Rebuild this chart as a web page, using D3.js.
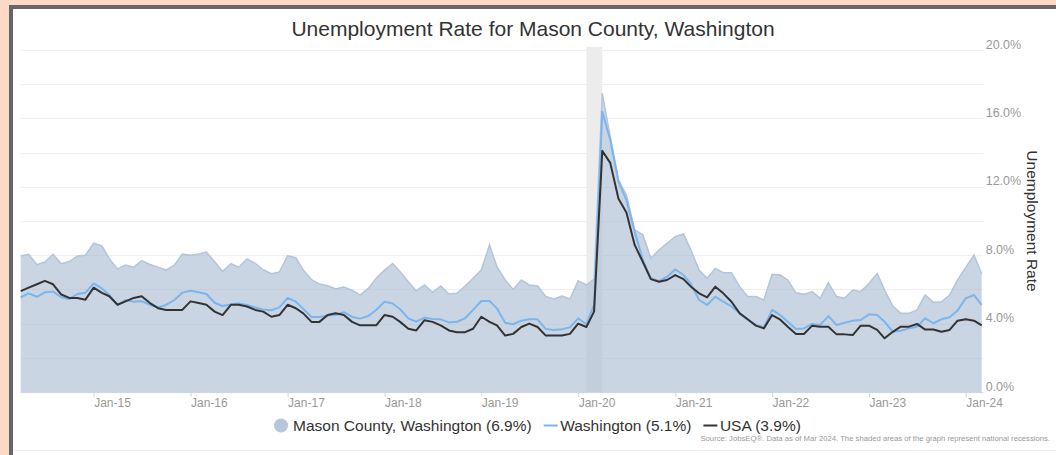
<!DOCTYPE html>
<html lang="en">
<head>
    <meta charset="UTF-8">
    <title>Unemployment Rate for Mason County, Washington</title>
    <style>
        html, body { margin: 0; padding: 0; background: #fcd9c6; overflow: hidden; }
        #panel {
            position: absolute; left: 9px; top: 5px; width: 1060px; height: 460px;
            background: #fff; border-left: 4px solid #666; border-top: 4px solid #666;
        }
        svg { position: absolute; left: 0; top: 0; }
    </style>
</head>
<body>
    <div id="panel"></div>
    <svg id="chart" width="1056" height="455"></svg>

    <script src="https://d3js.org/d3.v7.min.js"></script>
    <script>
        // --- DATA (monthly, Apr 2014 .. Mar 2024) ---
        const startMonth = new Date(2014, 3, 1);

        const mason = [
            7.95, 8.05, 7.45, 7.6, 8.05, 7.5, 7.63, 7.95, 8.0, 8.7, 8.55, 7.8,
            7.2, 7.42, 7.3, 7.68, 7.46, 7.3, 7.13, 7.42, 8.06, 8.0, 8.07, 8.18,
            7.62, 7.04, 7.5, 7.3, 7.78, 7.52, 7.15, 6.92, 7.02, 7.96, 7.85, 7.13,
            6.57, 6.31, 6.21, 6.02, 6.14, 5.96, 5.67, 6.06, 6.65, 7.13, 7.52, 7.04,
            6.45, 5.91, 6.26, 5.83, 6.2, 5.73, 5.77, 6.2, 6.65, 7.13, 8.6, 7.33,
            6.55, 6.0, 6.55, 6.26, 6.2, 5.58, 5.44, 5.61, 5.44, 6.51, 6.26, 6.59,
            17.47, 14.93, 12.4, 11.52, 9.48, 9.19, 7.82, 8.3, 8.7, 9.09, 9.24, 8.3,
            7.13, 6.65, 7.23, 6.98, 6.98, 6.16, 5.58, 5.58, 5.38, 6.88, 6.84, 6.55,
            5.8, 5.71, 5.87, 5.48, 6.39, 5.58, 5.48, 5.96, 5.87, 6.35, 6.94, 5.96,
            5.03, 4.6, 4.6, 4.8, 5.67, 5.24, 5.28, 5.67, 6.55, 7.29, 8.01, 6.9
        ];

        const washington = [
            5.54, 5.77, 5.57, 5.83, 5.87, 5.54, 5.44, 5.73, 5.81, 6.35, 6.06, 5.67,
            5.09, 5.38, 5.28, 5.32, 5.09, 4.95, 5.09, 5.38, 5.81, 5.92, 5.83, 5.73,
            5.22, 5.03, 5.12, 5.18, 5.09, 4.94, 4.82, 4.78, 4.95, 5.5, 5.28, 4.86,
            4.39, 4.39, 4.47, 4.5, 4.67, 4.39, 4.29, 4.44, 4.8, 5.28, 5.18, 4.84,
            4.31, 4.11, 4.35, 4.27, 4.25, 4.07, 4.11, 4.31, 4.8, 5.32, 5.32, 4.89,
            4.05, 3.96, 4.17, 4.25, 4.25, 3.68, 3.63, 3.67, 3.78, 4.31, 3.96, 5.1,
            16.39, 14.74, 12.3, 11.23, 9.38, 7.72, 6.65, 6.49, 6.74, 7.17, 6.84, 6.32,
            5.38, 5.09, 5.58, 5.28, 5.0, 4.6, 4.21, 3.92, 3.78, 4.8, 4.5, 4.11,
            3.68, 3.72, 3.98, 3.92, 4.44, 3.92, 4.05, 4.17, 4.21, 4.54, 4.5, 4.11,
            3.52, 3.58, 3.72, 3.82, 4.31, 4.02, 4.25, 4.37, 4.76, 5.48, 5.67, 5.1
        ];

        const usa = [
            5.9, 6.1, 6.3, 6.5, 6.3, 5.7, 5.5, 5.5, 5.4, 6.1, 5.8, 5.6,
            5.1, 5.3, 5.5, 5.6, 5.2, 4.9, 4.8, 4.8, 4.8, 5.3, 5.2, 5.1,
            4.7, 4.5, 5.1, 5.1, 5.0, 4.8, 4.7, 4.4, 4.5, 5.1, 4.9, 4.6,
            4.1, 4.1, 4.5, 4.6, 4.5, 4.1, 3.9, 3.9, 3.9, 4.5, 4.4, 4.1,
            3.7, 3.6, 4.2, 4.1, 3.9, 3.6, 3.5, 3.5, 3.7, 4.4, 4.1, 3.9,
            3.3, 3.4, 3.8, 4.0, 3.8, 3.3, 3.3, 3.3, 3.4, 4.0, 3.8, 4.7,
            14.1, 13.4, 11.3, 10.5, 8.6, 7.6, 6.6, 6.45, 6.55, 6.84, 6.6, 6.16,
            5.77, 5.53, 6.16, 5.77, 5.28, 4.6, 4.25, 3.88, 3.72, 4.5, 4.23, 3.82,
            3.39, 3.39, 3.88, 3.82, 3.82, 3.37, 3.37, 3.33, 3.88, 3.88, 3.63, 3.14,
            3.52, 3.82, 3.82, 3.98, 3.65, 3.65, 3.52, 3.63, 4.17, 4.25, 4.17, 3.9
        ];

        const recessions = [[new Date(2020, 1, 1), new Date(2020, 3, 1)]];

        const xTickLabels = ["Jan-15", "Jan-16", "Jan-17", "Jan-18", "Jan-19",
                             "Jan-20", "Jan-21", "Jan-22", "Jan-23", "Jan-24"];
        const yTickValues = [0, 4, 8, 12, 16, 20];
        const gridValues = [0, 2, 4, 6, 8, 10, 12, 14, 16, 18, 20];

        const legendItems = [
            { label: "Mason County, Washington (6.9%)", type: "area" },
            { label: "Washington (5.1%)", type: "line", color: "#7cb5ec" },
            { label: "USA (3.9%)", type: "line", color: "#333" }
        ];

        // --- BUILD ---
        const months = d3.timeMonth.range(startMonth, d3.timeMonth.offset(startMonth, mason.length));
        const rows = months.map((d, i) => ({ date: d, mason: mason[i], wa: washington[i], usa: usa[i] }));

        const plot = { left: 20.7, right: 981.7, top: 50, bottom: 392 };

        const x = d3.scaleTime()
            .domain([months[0], months[months.length - 1]])
            .range([plot.left, plot.right]);

        const y = d3.scaleLinear()
            .domain([0, 20])
            .range([plot.bottom, plot.top]);

        const svg = d3.select("#chart");
        const font = "'Liberation Sans', Arial, sans-serif";

        // title
        svg.append("text")
            .attr("x", 533).attr("y", 36)
            .attr("text-anchor", "middle")
            .attr("font-family", font)
            .attr("font-size", 21)
            .attr("fill", "#333")
            .text("Unemployment Rate for Mason County, Washington");

        // gridlines
        svg.append("g").selectAll("line")
            .data(gridValues)
            .join("line")
            .attr("x1", plot.left).attr("x2", plot.right + 1.5)
            .attr("y1", d => Math.round(y(d)) + 0.5).attr("y2", d => Math.round(y(d)) + 0.5)
            .attr("stroke", "#efefef").attr("stroke-width", 1);

        // recession band
        svg.append("g").selectAll("rect")
            .data(recessions)
            .join("rect")
            .attr("x", d => x(d[0]))
            .attr("width", d => x(d[1]) - x(d[0]))
            .attr("y", plot.top - 3)
            .attr("height", plot.bottom - plot.top + 3)
            .attr("fill", "#ececec");

        // mason area
        const area = d3.area()
            .x(d => x(d.date))
            .y0(y(0))
            .y1(d => y(d.mason));

        svg.append("path")
            .datum(rows)
            .attr("d", area)
            .attr("fill", "#a9bcd4")
            .attr("fill-opacity", 0.62);

        svg.append("path")
            .datum(rows)
            .attr("d", d3.line().x(d => x(d.date)).y(d => y(d.mason)))
            .attr("fill", "none")
            .attr("stroke", "#b3c5db")
            .attr("stroke-width", 1.5);

        // lines
        svg.append("path")
            .datum(rows)
            .attr("d", d3.line().x(d => x(d.date)).y(d => y(d.wa)))
            .attr("fill", "none")
            .attr("stroke", "#7cb5ec")
            .attr("stroke-width", 2)
            .attr("stroke-linejoin", "round");

        svg.append("path")
            .datum(rows)
            .attr("d", d3.line().x(d => x(d.date)).y(d => y(d.usa)))
            .attr("fill", "none")
            .attr("stroke", "#333")
            .attr("stroke-width", 2)
            .attr("stroke-linejoin", "round");

        // x axis
        const xTicks = xTickLabels.map((l, i) => new Date(2015 + i, 0, 1));
        const xAxis = svg.append("g")
            .attr("transform", `translate(0,${plot.bottom})`)
            .call(d3.axisBottom(x).tickValues(xTicks).tickSize(5).tickFormat((d, i) => xTickLabels[i]));
        xAxis.select(".domain").attr("stroke", "#ccd6eb").attr("d", `M${plot.left},0.5H${plot.right + 1.5}`);
        xAxis.selectAll(".tick line").attr("stroke", "#ccd6eb");
        xAxis.selectAll(".tick text")
            .attr("text-anchor", "start")
            .attr("dy", null).attr("y", 15)
            .attr("font-family", font).attr("font-size", 12).attr("fill", "#999");

        // y axis (right)
        const yAxis = svg.append("g")
            .attr("transform", `translate(${plot.right + 4},0)`)
            .call(d3.axisRight(y).tickValues(yTickValues).tickSize(0).tickFormat(d => d.toFixed(1) + "%"));
        yAxis.select(".domain").remove();
        yAxis.selectAll(".tick text")
            .attr("x", 0).attr("dy", "-0.15em")
            .attr("font-family", font).attr("font-size", 12.5).attr("fill", "#999");

        svg.append("text")
            .attr("transform", `translate(1027,${(plot.top + plot.bottom) / 2}) rotate(90)`)
            .attr("text-anchor", "middle")
            .attr("font-family", font).attr("font-size", 15.5)
            .attr("fill", "#333")
            .text("Unemployment Rate");

        // legend
        const lg = svg.append("g").attr("transform", "translate(0,431)");
        let lx = 274;
        legendItems.forEach(item => {
            if (item.type === "area") {
                lg.append("circle").attr("cx", lx + 7).attr("cy", -5.5).attr("r", 7).attr("fill", "#b6c7dc");
                lx += 19;
            } else {
                lg.append("line").attr("x1", lx).attr("x2", lx + 14)
                    .attr("y1", -5.5).attr("y2", -5.5)
                    .attr("stroke", item.color).attr("stroke-width", 2);
                lx += 16.5;
            }
            const t = lg.append("text")
                .attr("x", lx).attr("y", 0)
                .attr("font-family", font).attr("font-size", 15.5)
                .attr("fill", "#333")
                .text(item.label);
            lx += t.node().getComputedTextLength() + 12;
        });

        // source note
        svg.append("text")
            .attr("x", 1050).attr("y", 441)
            .attr("text-anchor", "end")
            .attr("font-family", font).attr("font-size", 7.7)
            .attr("fill", "#999")
            .text("Source: JobsEQ®. Data as of Mar 2024. The shaded areas of the graph represent national recessions.");

        svg.append("line")
            .attr("x1", 13).attr("x2", 1056).attr("y1", 450.5).attr("y2", 450.5)
            .attr("stroke", "#eee");
    </script>
</body>
</html>
